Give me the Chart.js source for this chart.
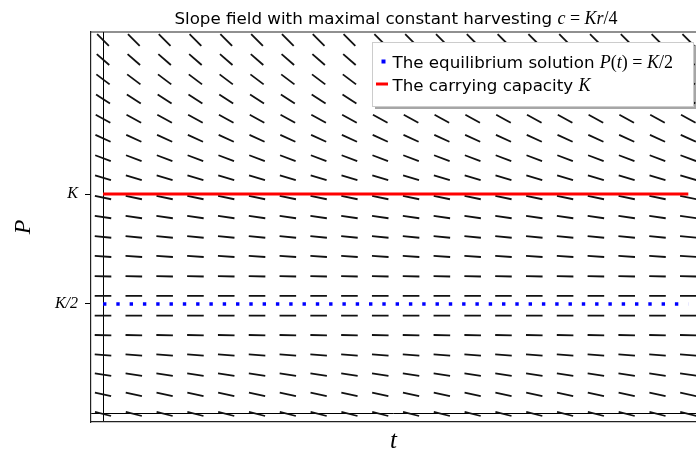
<!DOCTYPE html>
<html>
<head>
<meta charset="utf-8">
<title>Slope field</title>
<script src="https://cdn.jsdelivr.net/npm/chart.js@4.4.1/dist/chart.umd.min.js"></script>
<style>
html, body { margin: 0; padding: 0; background: #fff; overflow: hidden; }
#wrap { width: 696px; height: 453px; }
</style>
</head>
<body>
<div id="wrap"><canvas id="slopeChart" width="696" height="453"></canvas></div>
<script>
// grid of the slope field (K = 10)
var tColumns = [0, 1, 2, 3, 4, 5, 6, 7, 8, 9, 10, 11, 12, 13, 14, 15, 16, 17, 18, 19];
var pRows = [0, 0.89, 1.79, 2.68, 3.58, 4.47, 5.37, 6.26, 7.16, 8.05,
             8.95, 9.84, 10.74, 11.63, 12.53, 13.42, 14.32, 15.21, 16.11, 17];
// tilt of the segments in each row, degrees downward
var rowAngles = [14, 12.5, 8, 4, 1.5, 0.4, 0.4, 1.5, 3.5, 6,
                 8, 12, 16.5, 20.5, 24.5, 28.5, 33, 37, 41, 45];

var carryingCapacity = 10;   // K
var equilibriumLevel = 5;    // K/2
var lineStart = 0, lineEnd = 19;

var yTickValues = [0, 5, 10];
var yTickLabels = ['', 'K/2', 'K'];

var sans = '"DejaVu Sans", sans-serif';
var serif = '"Liberation Serif", serif';

// field points
var fieldPoints = [];
for (var i = 0; i < pRows.length; i++) {
    for (var j = 0; j < tColumns.length; j++) {
        fieldPoints.push({x: tColumns[j], y: pRows[i], a: rowAngles[i]});
    }
}

// draws a run of pieces with different fonts, centered or from the left
function drawRuns(ctx, runs, x, y, centered) {
    var total = 0;
    runs.forEach(function (r) {
        ctx.font = r[1];
        r.w = ctx.measureText(r[0]).width + (r[2] || 0) * 2;
        total += r.w;
    });
    var cx = centered ? x - total / 2 : x;
    ctx.textAlign = 'left';
    ctx.textBaseline = 'alphabetic';
    runs.forEach(function (r) {
        ctx.font = r[1];
        ctx.fillText(r[0], cx + (r[2] || 0), y);
        cx += r.w;
    });
}

var framePlugin = {
    id: 'frame',
    afterDraw: function (chart) {
        var ctx = chart.ctx, a = chart.chartArea;
        ctx.save();
        // top edge of the frame (right edge falls outside the picture)
        ctx.strokeStyle = '#222';
        ctx.lineWidth = 1.2;
        ctx.beginPath();
        ctx.moveTo(a.left, a.top);
        ctx.lineTo(a.right, a.top);
        ctx.stroke();

        // title
        ctx.fillStyle = '#000';
        var mf = 'italic 18px ' + serif, uf = '18px ' + serif;
        drawRuns(ctx, [
            ['Slope field with maximal constant harvesting ', '16.7px ' + sans],
            ['c', mf], ['=', uf, 4.5], ['Kr', mf], ['/4', uf]
        ], 396, 24, true);

        // legend
        var lx = 372, ly = 42, lw = 321, lh = 64;
        ctx.fillStyle = 'rgba(0,0,0,0.35)';
        ctx.fillRect(lx + 3, ly + 3, lw, lh);
        ctx.fillStyle = '#fff';
        ctx.fillRect(lx, ly, lw, lh);
        ctx.strokeStyle = '#ccc';
        ctx.lineWidth = 1;
        ctx.strokeRect(lx + 0.5, ly + 0.5, lw, lh);

        var ds = chart.data.datasets;
        ctx.fillStyle = ds[1].borderColor;
        ctx.fillRect(381.5, 59.5, 4, 4);
        ctx.strokeStyle = ds[0].borderColor;
        ctx.lineWidth = 3;
        ctx.beginPath();
        ctx.moveTo(376, 84);
        ctx.lineTo(388, 84);
        ctx.stroke();

        ctx.fillStyle = '#000';
        drawRuns(ctx, [
            [ds[1].label, '16.7px ' + sans],
            ['P', mf], ['(', uf], ['t', mf], [')', uf], ['=', uf, 4.5], ['K', mf], ['/2', uf]
        ], 392.5, 68, false);
        drawRuns(ctx, [
            [ds[0].label, '16.7px ' + sans],
            ['K', mf]
        ], 392.5, 90.5, false);
        ctx.restore();
    }
};

var ctxS = document.getElementById('slopeChart').getContext('2d');
var slopeChart = new Chart(ctxS, {
    type: 'scatter',
    data: {
        datasets: [{
            type: 'line',
            label: 'The carrying capacity ',
            data: [{x: lineStart, y: carryingCapacity}, {x: lineEnd, y: carryingCapacity}],
            borderColor: '#ff0000',
            borderWidth: 3,
            pointRadius: 0
        }, {
            type: 'line',
            label: 'The equilibrium solution ',
            data: [{x: lineStart, y: equilibriumLevel}, {x: lineEnd, y: equilibriumLevel}],
            borderColor: '#0000ff',
            borderWidth: 3.4,
            borderDash: [3.4, 9.9],
            borderCapStyle: 'butt',
            pointRadius: 0
        }, {
            label: 'field',
            data: fieldPoints,
            pointStyle: 'line',
            pointRadius: 8.3,
            pointHoverRadius: 8.3,
            borderColor: '#111',
            borderWidth: 1.8,
            rotation: function (c) { return c.raw ? c.raw.a : 0; }
        }]
    },
    options: {
        responsive: false,
        devicePixelRatio: 1,
        animation: false,
        events: [],
        layout: { autoPadding: false, padding: { top: 32, right: 0, left: 0, bottom: 0 } },
        plugins: {
            legend: { display: false },
            title: { display: false },
            tooltip: { enabled: false }
        },
        scales: {
            x: {
                type: 'linear',
                min: -0.39,
                max: 19.25,
                afterBuildTicks: function (s) { s.ticks = [{value: 0}]; },
                afterFit: function (s) { s.height = 31; },
                ticks: { display: false },
                grid: { color: '#000', lineWidth: 1, drawTicks: false },
                border: { display: true, color: '#222', width: 1.2 },
                title: {
                    display: true, text: 't', color: '#000',
                    font: { family: serif, style: 'italic', size: 25 },
                    padding: { top: 0, bottom: -3 }
                }
            },
            y: {
                type: 'linear',
                min: -0.364,
                max: 17.364,
                afterBuildTicks: function (s) {
                    s.ticks = yTickValues.map(function (v) { return {value: v}; });
                },
                afterFit: function (s) { s.width = 91; },
                ticks: {
                    autoSkip: false,
                    padding: 7,
                    color: '#000',
                    font: { family: serif, style: 'italic', size: 16 },
                    callback: function (v) { return yTickLabels[yTickValues.indexOf(v)]; }
                },
                grid: {
                    lineWidth: 1,
                    tickLength: 6,
                    color: function (c) { return c.tick && c.tick.value === 0 ? '#000' : 'rgba(0,0,0,0)'; },
                    tickColor: function (c) { return c.tick && c.tick.value === 0 ? 'rgba(0,0,0,0)' : '#000'; }
                },
                border: { display: true, color: '#222', width: 1.2 },
                title: {
                    display: true, text: 'P', color: '#000',
                    font: { family: serif, style: 'italic', size: 24 },
                    padding: { top: 9, bottom: 0 }
                }
            }
        }
    },
    plugins: [framePlugin]
});
</script>
</body>
</html>
